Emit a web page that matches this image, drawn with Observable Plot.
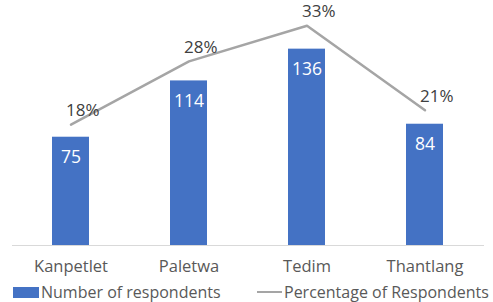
<!DOCTYPE html>
<html>
<head>
<meta charset="utf-8">
<script src="https://cdn.jsdelivr.net/npm/d3@7"></script>
<script src="https://cdn.jsdelivr.net/npm/@observablehq/plot@0.6"></script>
<style>
  html, body { margin: 0; padding: 0; background: #fff; overflow: hidden; }
  body { width: 493px; height: 302px; font-family: "Open Sans", sans-serif; }
  #chart svg { display: block; }
  .legend { position: relative; height: 20px; color: #595959; font-size: 16px; white-space: nowrap; }
  .legend .item { position: absolute; top: 0; display: flex; align-items: center; line-height: 20px; }
  .sw-bar { display: inline-block; width: 26px; height: 11px; background: #4472C4; margin-right: 2px; }
  .sw-line { display: inline-block; width: 25px; height: 2px; background: #A5A5A5; margin-right: 2px; }
</style>
</head>
<body>
<div id="chart"></div>
<div class="legend">
  <div class="item" style="left:13px"><span class="sw-bar"></span><span>Number of respondents</span></div>
  <div class="item" style="left:257px"><span class="sw-line"></span><span>Percentage of Respondents</span></div>
</div>
<script>
const categories = ["Kanpetlet", "Paletwa", "Tedim", "Thantlang"];
const respondents = [75, 114, 136, 84];
const percentages = [18.3, 27.9, 33.3, 20.5]; // shown as 18%, 28%, 33%, 21%
const primaryMax = 160;
const secondaryMax = 35;

const data = categories.map((c, i) => ({
  category: c,
  count: respondents[i],
  pct: percentages[i],
  pctY: percentages[i] * primaryMax / secondaryMax
}));

const chart = Plot.plot({
  width: 493,
  height: 282,
  marginTop: 14,
  marginBottom: 37,
  marginLeft: 12,
  marginRight: 9,
  style: { fontFamily: "Open Sans, sans-serif", background: "#fff" },
  x: { domain: categories, paddingInner: 0.686, paddingOuter: 0.343, label: null },
  y: { domain: [0, primaryMax], axis: null },
  marks: [
    Plot.ruleY([0], { stroke: "#D9D9D9", strokeWidth: 1 }),
    Plot.barY(data, { x: "category", y: "count", fill: "#4472C4" }),
    Plot.text(data, { x: "category", y: "count", text: d => String(d.count), dy: 20, fill: "#ffffff", fontSize: 17.5 }),
    Plot.line(data, { x: "category", y: "pctY", stroke: "#A5A5A5", strokeWidth: 2.5 }),
    Plot.text(data, { x: "category", y: "pctY", text: d => Math.round(d.pct) + "%", textAnchor: "start", dx: -5, dy: -14, fill: "#404040", fontSize: 17 }),
    Plot.axisX({ tickSize: 0, tickPadding: 15, fontSize: 16.5, color: "#595959", label: null })
  ]
});
document.getElementById("chart").appendChild(chart);
</script>
</body>
</html>
